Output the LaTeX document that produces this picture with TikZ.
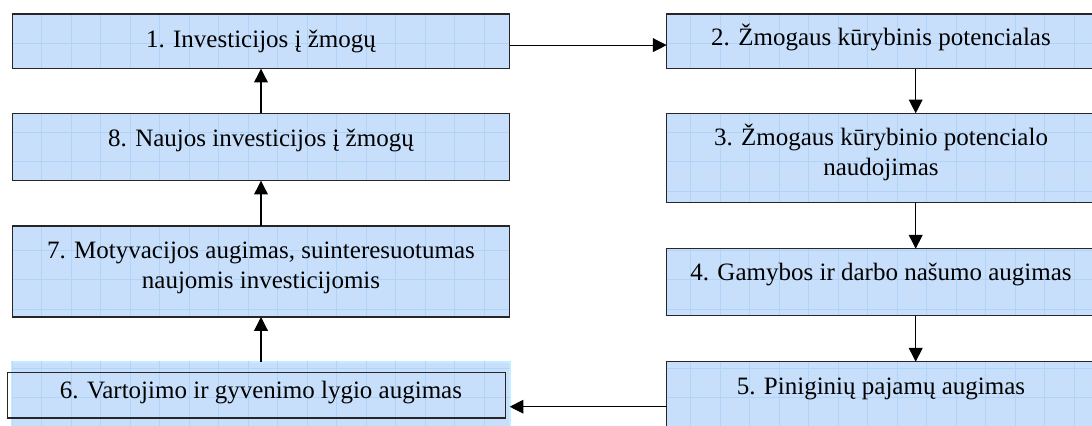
\documentclass[tikz,border=0pt]{standalone}
\usepackage{fontspec}
\setmainfont{Liberation Serif}
\usetikzlibrary{arrows.meta}

\definecolor{boxblue}{RGB}{199,223,250}
\definecolor{gridblue}{RGB}{176,211,247}
\definecolor{glowblue}{RGB}{196,238,255}

\begin{document}
\begin{tikzpicture}[x=0.48pt,y=-0.48pt,
	box/.style={fill=boxblue,inner sep=0,outer sep=0},
	boxsize/.style 2 args={minimum width=#1*0.48pt,minimum height=#2*0.48pt},
	border/.style={draw=black!85,line width=0.6pt},
	txt/.style={anchor=base,align=center,inner sep=0,font=\fontsize{12}{14.4}\selectfont},
	arr/.style={-{Triangle[length=6.6pt,width=6.6pt]},line width=0.55pt},
	gridline/.style={draw=gridblue,line width=0.35pt}]
				    \useasboundingbox (0,0) rectangle (1092,425);
				    \clip (0,0) rectangle (1092,425);
				    % Place nodes
				    \node [box,boxsize={497.4}{54.7}] (b1) at (261,41.35) {};
				    \node [box,boxsize={497.4}{67.4}] (b8) at (261,147) {};
				    \node [box,boxsize={497.4}{91}] (b7) at (261,271.5) {};
				    \node [box,boxsize={497.4}{90},draw=glowblue,line width=0.8pt] (b6f) at (261,406.7) {};
				    \node [inner sep=0,outer sep=0,boxsize={498}{45.3}] (b6) at (256.3,395.35) {};
				    \node [box,boxsize={498}{54.7}] (b2) at (915.7,41.35) {};
				    \node [box,boxsize={498}{89}] (b3) at (915.7,157.8) {};
				    \node [box,boxsize={498}{67}] (b4) at (915.7,282.2) {};
				    \node [box,boxsize={498}{90}] (b5) at (915.7,406.7) {};
				    
				    % grid on the boxes
				    \foreach \b in {b1,b8,b7,b6f,b2,b3,b4,b5} {
				    	\begin{scope}
				    		\clip (\b.north west) rectangle (\b.south east);
				    		\draw [gridline,shift={(12.3,14)},step=14.16pt] (-30,-30) grid (1200,470);
				    	\end{scope}
				    }
				    \foreach \b in {b1,b8,b7,b6,b2,b3,b4,b5}
				    	\draw [border] (\b.north west) rectangle (\b.south east);
				    
				    % texts (base = last line)
				    \node [txt] (t1) at (261,47.3) {1. Investicijos į žmogų};
				    \node [txt] (t8) at (261,146.5) {8. Naujos investicijos į žmogų};
				    \node [txt] (t7) at (261,288) {7. Motyvacijos augimas, suinteresuotumas\\naujomis investicijomis};
				    \node [txt] (t6) at (261,398.3) {6. Vartojimo ir gyvenimo lygio augimas};
				    \node [txt] (t2) at (881,45.6) {2. Žmogaus kūrybinis potencialas};
				    \node [txt] (t3) at (881,175.3) {3. Žmogaus kūrybinio potencialo\\naudojimas};
				    \node [txt] (t4) at (881,280.5) {4. Gamybos ir darbo našumo augimas};
				    \node [txt] (t5) at (881,394) {5. Piniginių pajamų augimas};
				    
				    % arrows
				    \draw [arr] ([yshift=-1.8pt]b1.east) -- ([yshift=-1.8pt]b2.west);
				    \draw [arr] (b2.south) -- (b3.north);
				    \draw [arr] (b3.south) -- (b4.north);
				    \draw [arr] (b4.south) -- (b5.north);
				    \draw [arr] (b5.west) -- (b6f.east);
				    \draw [arr] (b6f.north) -- (b7.south);
				    \draw [arr] (b7.north) -- (b8.south);
				    \draw [arr] (b8.north) -- (b1.south);
				\end{tikzpicture}
\end{document}
